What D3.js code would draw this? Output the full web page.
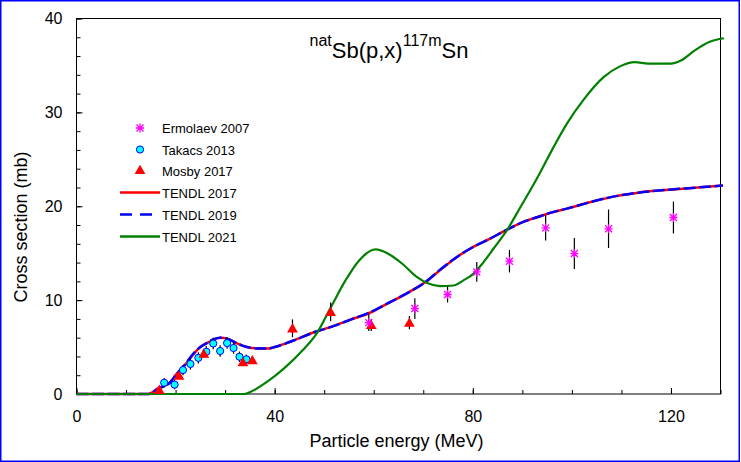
<!DOCTYPE html>
<html>
<head>
<meta charset="utf-8">
<script src="https://cdn.jsdelivr.net/npm/d3@7"></script>
<style>
  body { margin: 0; background: #fff; }
  svg { display: block; font-family: "Liberation Sans", Arial, sans-serif; }
</style>
</head>
<body>
<svg width="741" height="462"></svg>
<script>
const ermolaevE = [59.0, 68.3, 74.9, 80.8, 87.4, 94.7, 100.5, 107.4, 120.5];
const ermolaevXS = [7.6, 9.1, 10.6, 13.0, 14.15, 17.7, 14.96, 17.6, 18.8];
const ermolaevErr = [0.9, 1.1, 0.85, 1.05, 1.2, 1.35, 1.65, 2.05, 1.7];

const takacsE = [17.7, 19.8, 21.5, 23.0, 24.6, 26.2, 27.6, 29.0, 30.4, 31.7, 32.9, 34.3];
const takacsXS = [1.2, 1.0, 2.55, 3.2, 3.85, 4.5, 5.38, 4.58, 5.42, 4.9, 3.97, 3.7];
const takacsErr = [0.5, 0.5, 0.55, 0.6, 0.6, 0.6, 0.6, 0.6, 0.6, 0.6, 0.55, 0.5];

const mosbyE = [16.7, 20.7, 25.7, 33.6, 35.5, 43.6, 51.3, 59.5, 67.2];
const mosbyXS = [0.45, 1.95, 4.3, 3.4, 3.6, 7.0, 8.75, 7.35, 7.6];
const mosbyErr = [0.3, 0.35, 0.4, 0.4, 0.4, 0.95, 1.0, 0.65, 0.7];

// evaluated curves
const tendl2017E = [0, 14.5, 16.3, 19.0, 20.3, 21.6, 23.7, 25.0, 26.4, 27.7, 29.0, 30.4, 32.4, 34.4, 36.4, 38.8, 40, 43.8, 48.1, 51.4, 55.2, 59.0, 62.8, 66.6, 70.5, 73.4, 76.8, 80.1, 83.5, 86.9, 90.2, 93.6, 95.6, 99.0, 103.8, 108.6, 113.4, 118.1, 122.9, 130.5];
const tendl2017XS = [0, 0, 0.55, 1.3, 2.2, 2.9, 4.3, 5.0, 5.45, 5.8, 6.0, 5.9, 5.4, 5.0, 4.86, 4.86, 5.0, 5.7, 6.6, 7.15, 7.9, 8.6, 9.65, 10.7, 11.95, 13.2, 14.6, 15.67, 16.56, 17.5, 18.33, 18.94, 19.3, 19.75, 20.45, 21.05, 21.45, 21.7, 21.9, 22.2];

const tendl2019E = [0, 14.5, 16.3, 19.0, 20.3, 21.6, 23.7, 25.0, 26.4, 27.7, 29.0, 30.4, 32.4, 34.4, 36.4, 38.8, 40, 43.8, 48.1, 51.4, 55.2, 59.0, 62.8, 66.6, 70.5, 73.4, 76.8, 80.1, 83.5, 86.9, 90.2, 93.6, 95.6, 99.0, 103.8, 108.6, 113.4, 118.1, 122.9, 130.5];
const tendl2019XS = [0, 0, 0.5, 1.3, 2.2, 2.95, 4.35, 5.0, 5.45, 5.85, 6.0, 5.9, 5.4, 5.0, 4.85, 4.85, 5.0, 5.7, 6.6, 7.15, 7.9, 8.65, 9.65, 10.7, 11.95, 13.25, 14.6, 15.67, 16.56, 17.5, 18.33, 18.94, 19.3, 19.75, 20.45, 21.05, 21.45, 21.7, 21.9, 22.2];

const tendl2021E = [0, 33.9, 35.2, 39.0, 41.9, 45.7, 48.5, 51.4, 54.3, 57.1, 60.4, 62.8, 65.7, 68.6, 70.9, 73.4, 76.1, 78.1, 80.1, 82.2, 84.2, 86.9, 89.6, 91.6, 93.6, 96.3, 99.0, 102.3, 106.4, 109.7, 112.7, 115.4, 120.0, 121.9, 124.8, 127.7, 130.7];
const tendl2021XS = [0, 0, 0.25, 1.5, 2.73, 4.68, 6.46, 9.3, 12.1, 14.26, 15.4, 14.97, 13.9, 12.5, 11.8, 11.5, 11.56, 12.1, 12.8, 14.07, 15.5, 17.45, 19.9, 21.7, 23.6, 26.3, 28.8, 31.3, 33.75, 34.9, 35.35, 35.2, 35.2, 35.5, 36.6, 37.5, 37.9];

const xMajor = [0, 40, 80, 120];
const yMajor = [0, 10, 20, 30, 40];

const legendLabels = ["Ermolaev 2007", "Takacs 2013", "Mosby 2017", "TENDL 2017", "TENDL 2019", "TENDL 2021"];

const svg = d3.select("svg");
const W = 741, H = 462;
const margin = { top: 18.5, right: 20.5, bottom: 68, left: 76.5 };
const width = W - margin.left - margin.right;
const height = H - margin.top - margin.bottom;

svg.append("rect").attr("width", W).attr("height", H).attr("fill", "#fff");
svg.append("rect")
  .attr("x", 0.75).attr("y", 0.75)
  .attr("width", W - 2.5).attr("height", H - 1.5)
  .attr("fill", "none").attr("stroke", "#0000ff").attr("stroke-width", 1.5);

const g = svg.append("g").attr("transform", `translate(${margin.left},${margin.top})`);

const x = d3.scaleLinear().domain([0, 130]).range([0, width]);
const y = d3.scaleLinear().domain([0, 40]).range([height, 0]);

// minor ticks
g.append("g")
  .attr("transform", `translate(0,${height})`)
  .call(d3.axisBottom(x).tickValues(d3.range(0, 131, 10)).tickSize(-4).tickFormat(""))
  .call((s) => s.select(".domain").remove());
g.append("g")
  .call(d3.axisLeft(y).tickValues(d3.range(0, 41, 2)).tickSize(-4).tickFormat(""))
  .call((s) => s.select(".domain").remove());

// major ticks + labels
g.append("g")
  .attr("class", "axis axis-x")
  .attr("transform", `translate(0,${height})`)
  .call(d3.axisBottom(x).tickValues(xMajor).tickSize(-6).tickPadding(17).tickFormat(d3.format("d")))
  .call((s) => s.select(".domain").remove())
  .selectAll("text").attr("font-size", 16).attr("font-family", "Liberation Sans, Arial, sans-serif");

g.append("g")
  .attr("class", "axis axis-y")
  .call(d3.axisLeft(y).tickValues(yMajor).tickSize(-6).tickPadding(14).tickFormat(d3.format("d")))
  .call((s) => s.select(".domain").remove())
  .selectAll("text").attr("font-size", 16).attr("font-family", "Liberation Sans, Arial, sans-serif");

g.selectAll(".tick line").attr("stroke", "#000");

// frame
g.append("rect")
  .attr("width", width).attr("height", height)
  .attr("fill", "none").attr("stroke", "#000").attr("stroke-width", 1);

// axis titles
svg.append("text")
  .attr("x", margin.left + width / 2 - 2)
  .attr("y", 447)
  .attr("text-anchor", "middle")
  .attr("font-size", 18)
  .text("Particle energy (MeV)");

svg.append("text")
  .attr("transform", "translate(27,227) rotate(-90)")
  .attr("text-anchor", "middle")
  .attr("font-size", 18)
  .text("Cross section (mb)");

// chart title
const title = svg.append("text")
  .attr("x", 389).attr("y", 57.5)
  .attr("text-anchor", "middle")
  .attr("font-size", 22);
title.append("tspan").attr("font-size", 16).attr("dy", -11.5).text("nat");
title.append("tspan").attr("dy", 11.5).text("Sb(p,x)");
title.append("tspan").attr("font-size", 16).attr("dy", -11.5).text("117m");
title.append("tspan").attr("dy", 11.5).text("Sn");

// curves
const line = d3.line()
  .x((d) => x(d[0]))
  .y((d) => y(d[1]))
  .curve(d3.curveMonotoneX);

const zip = (a, b) => a.map((v, i) => [v, b[i]]);

g.append("path")
  .datum(zip(tendl2017E, tendl2017XS))
  .attr("fill", "none").attr("stroke", "#ff0000").attr("stroke-width", 2.5)
  .attr("d", line);

g.append("path")
  .datum(zip(tendl2019E, tendl2019XS))
  .attr("fill", "none").attr("stroke", "#0000ff").attr("stroke-width", 2.5)
  .attr("stroke-dasharray", "12,3.5")
  .attr("d", line);

g.append("path")
  .datum(zip(tendl2021E, tendl2021XS))
  .attr("fill", "none").attr("stroke", "#008000").attr("stroke-width", 2.2)
  .attr("d", line);

// error bars
function errorBars(E, XS, Err) {
  g.append("g").selectAll("line")
    .data(E.map((e, i) => ({ e, v: XS[i], s: Err[i] })))
    .enter().append("line")
    .attr("x1", (d) => x(d.e)).attr("x2", (d) => x(d.e))
    .attr("y1", (d) => y(d.v - d.s)).attr("y2", (d) => y(d.v + d.s))
    .attr("stroke", "#000").attr("stroke-width", 1.2);
}
errorBars(takacsE, takacsXS, takacsErr);
errorBars(mosbyE, mosbyXS, mosbyErr);
errorBars(ermolaevE, ermolaevXS, ermolaevErr);

// markers
const asterisk = "M-3.5,-3.5L3.5,3.5M-3.5,3.5L3.5,-3.5M0,-4.5L0,4.5M-4,0L4,0";
const triangle = d3.symbol().type(d3.symbolTriangle).size(50);

function drawTakacs(sel) {
  sel.append("circle").attr("r", 3.6)
    .attr("fill", "#00ffff").attr("stroke", "#0000ff").attr("stroke-width", 1);
}
function drawMosby(sel) {
  sel.append("path").attr("d", triangle()).attr("fill", "#ff0000");
}
function drawErmolaev(sel) {
  sel.append("path").attr("d", asterisk)
    .attr("fill", "none").attr("stroke", "#ff00ff").attr("stroke-width", 1.3);
}

g.append("g").selectAll("g")
  .data(zip(takacsE, takacsXS)).enter().append("g")
  .attr("transform", (d) => `translate(${x(d[0])},${y(d[1])})`)
  .call(drawTakacs);

g.append("g").selectAll("g")
  .data(zip(mosbyE, mosbyXS)).enter().append("g")
  .attr("transform", (d) => `translate(${x(d[0])},${y(d[1]) + 1})`)
  .call(drawMosby);

g.append("g").selectAll("g")
  .data(zip(ermolaevE, ermolaevXS)).enter().append("g")
  .attr("transform", (d) => `translate(${x(d[0])},${y(d[1])})`)
  .call(drawErmolaev);

// legend
const legendY = [128, 149.5, 171, 192.5, 214.5, 236.5];
const legend = svg.append("g");
const rows = legend.selectAll("g").data(legendLabels).enter().append("g")
  .attr("transform", (d, i) => `translate(0,${legendY[i]})`);

rows.append("text")
  .attr("x", 162).attr("y", 5)
  .attr("font-size", 13)
  .text((d) => d);

drawErmolaev(rows.filter((d, i) => i === 0).append("g").attr("transform", "translate(140,0)"));
drawTakacs(rows.filter((d, i) => i === 1).append("g").attr("transform", "translate(140,0)"));
drawMosby(rows.filter((d, i) => i === 2).append("g").attr("transform", "translate(140,0)"));

const lineStyles = [
  { i: 3, color: "#ff0000", dash: null },
  { i: 4, color: "#0000ff", dash: "12,8" },
  { i: 5, color: "#008000", dash: null },
];
lineStyles.forEach((s) => {
  rows.filter((d, i) => i === s.i).append("line")
    .attr("x1", 120).attr("x2", 160)
    .attr("stroke", s.color).attr("stroke-width", 2.5)
    .attr("stroke-dasharray", s.dash);
});
</script>
</body>
</html>
